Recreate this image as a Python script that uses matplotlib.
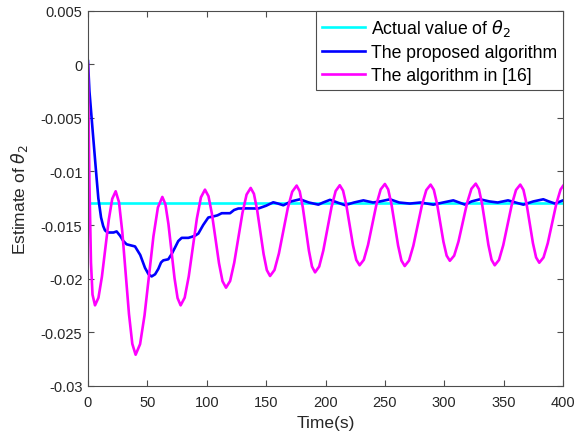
import matplotlib
matplotlib.use('Agg')
import matplotlib.pyplot as plt

plt.rcParams['font.family'] = ['Liberation Sans', 'DejaVu Sans']
plt.rcParams['mathtext.fontset'] = 'dejavusans'

# actual value of theta_2
theta_true = -0.0129

# proposed algorithm
t_prop = [0, 1.2, 4, 7.3, 8.7, 11, 12.8, 14.3, 16.5, 18.5, 21.5, 24.1, 27, 29.8,
          32.5, 36, 39.6, 44, 48, 51, 53.6, 56.5, 59.2, 61.5, 63.4, 65.5, 67.6,
          70.5, 73.3, 76, 78.9, 81.5, 84.5, 87.5, 90.1, 92.9, 97, 101.3, 105.5,
          109, 112.6, 116, 119.6, 123, 126.6, 134, 143.4, 150, 156, 160, 164.5,
          171, 178.5, 186, 194, 198, 203.8, 210, 216.4, 224, 231.9, 240, 246,
          254.3, 262, 271, 280, 290.8, 299, 307.6, 317.5, 323, 330, 338, 345,
          353.7, 360, 366.6, 375, 383.4, 388, 393.3, 400]
v_prop = [0.0003, -0.0025, -0.0063, -0.0107, -0.0125, -0.0143, -0.0151, -0.0155,
          -0.0157, -0.0157, -0.0157, -0.0156, -0.0160, -0.0165,
          -0.0168, -0.0169, -0.0170, -0.0178, -0.0190, -0.0196, -0.0198, -0.0196,
          -0.0191, -0.0185, -0.0183, -0.01825, -0.0182,
          -0.0177, -0.0171, -0.0165, -0.0162, -0.0162, -0.0162, -0.0161, -0.0160,
          -0.0158, -0.0150, -0.0143, -0.0142,
          -0.0141, -0.0139, -0.0139, -0.0139, -0.0136, -0.01346, -0.01345,
          -0.01346, -0.0132, -0.01288, -0.0130, -0.01316,
          -0.0128, -0.0126, -0.0129, -0.0131, -0.0129, -0.01265, -0.0129,
          -0.01315, -0.0129, -0.0127, -0.0129, -0.0128,
          -0.0126, -0.0129, -0.0130, -0.0129, -0.0131, -0.0129, -0.0127,
          -0.0131, -0.0128, -0.0126, -0.0128, -0.0129,
          -0.0127, -0.0129, -0.0131, -0.0128, -0.0126, -0.0128, -0.0130, -0.0127]

# algorithm in [16]
t_ref = [0, 0.5, 1.2, 2.5, 3.8, 5.9,
         8.8, 11.7, 14.6, 17.5, 20.4, 23.3,
         26.1, 28.9, 31.7, 34.5, 37.3, 40.1,
         43.85, 47.6, 51.35, 55.1, 58.85, 62.6,
         65.17, 67.73, 70.3, 72.87, 75.43, 78,
         81.42, 84.83, 88.25, 91.67, 95.08, 98.5,
         101.45, 104.4, 107.35, 110.3, 113.25, 116.2,
         119.67, 123.13, 126.6, 130.07, 133.53, 137,
         139.72, 142.43, 145.15, 147.87, 150.58, 153.3,
         157.03, 160.77, 164.5, 168.23, 171.97, 175.7,
         178.28, 180.87, 183.45, 186.03, 188.62, 191.2,
         194.67, 198.13, 201.6, 205.07, 208.53, 212,
         214.78, 217.57, 220.35, 223.13, 225.92, 228.7,
         232.25, 235.8, 239.35, 242.9, 246.45, 250,
         252.78, 255.57, 258.35, 261.13, 263.92, 266.7,
         270.33, 273.97, 277.6, 281.23, 284.87, 288.5,
         291.2, 293.9, 296.6, 299.3, 302.0, 304.7,
         308.33, 311.97, 315.6, 319.23, 322.87, 326.5,
         329.17, 331.83, 334.5, 337.17, 339.83, 342.5,
         346.08, 349.67, 353.25, 356.83, 360.42, 364,
         366.67, 369.33, 372, 374.67, 377.33, 380,
         383.58, 387.17, 390.75, 394.33, 397.92, 400]
v_ref = [0.0, -0.005, -0.011, -0.0185, -0.0215, -0.0225,
         -0.02179, -0.01984, -0.01718, -0.01451, -0.01256, -0.01185,
         -0.01287, -0.01567, -0.01948, -0.0233, -0.02609, -0.02711,
         -0.02612, -0.02343, -0.01975, -0.01606, -0.01337, -0.01238,
         -0.01306, -0.01491, -0.01744, -0.01997, -0.02182, -0.0225,
         -0.02178, -0.0198, -0.0171, -0.0144, -0.01242, -0.0117,
         -0.01231, -0.01399, -0.01628, -0.01856, -0.02024, -0.02085,
         -0.02023, -0.01852, -0.0162, -0.01387, -0.01216, -0.01154,
         -0.01209, -0.0136, -0.01565, -0.01771, -0.01921, -0.01976,
         -0.0192, -0.01765, -0.01554, -0.01343, -0.01189, -0.01132,
         -0.01186, -0.01335, -0.01537, -0.0174, -0.01888, -0.01942,
         -0.01888, -0.01739, -0.01536, -0.01332, -0.01183, -0.01129,
         -0.01179, -0.01316, -0.01503, -0.01689, -0.01826, -0.01876,
         -0.01825, -0.01686, -0.01497, -0.01307, -0.01168, -0.01117,
         -0.01168, -0.01309, -0.015, -0.01692, -0.01832, -0.01883,
         -0.01832, -0.01693, -0.01503, -0.01313, -0.01174, -0.01123,
         -0.01171, -0.01301, -0.01479, -0.01656, -0.01786, -0.01834,
         -0.01786, -0.01654, -0.01474, -0.01294, -0.01162, -0.01114,
         -0.01165, -0.01304, -0.01495, -0.01686, -0.01825, -0.01876,
         -0.01826, -0.01688, -0.015, -0.01311, -0.01173, -0.01123,
         -0.01172, -0.01305, -0.01488, -0.0167, -0.01803, -0.01852,
         -0.01803, -0.01669, -0.01486, -0.01303, -0.01169, -0.01135]

xticks = [0, 50, 100, 150, 200, 250, 300, 350, 400]
yticks = [-0.03, -0.025, -0.02, -0.015, -0.01, -0.005, 0, 0.005]
ytick_labels = ['-0.03', '-0.025', '-0.02', '-0.015', '-0.01', '-0.005', '0', '0.005']

fig = plt.figure(figsize=(5.82, 4.39), dpi=100)
ax = fig.add_axes([0.1512, 0.1191, 0.8162, 0.8542])

ax.plot([0, 400], [theta_true, theta_true], color='#00FFFF', lw=1.9,
        label=r'Actual value of $\theta_2$')
ax.plot(t_prop, v_prop, color='#0000FF', lw=1.9, label='The proposed algorithm')
ax.plot(t_ref, v_ref, color='#FF00FF', lw=1.9, label='The algorithm in [16]')

ax.set_xlim(0, 400)
ax.set_ylim(-0.03, 0.005)
ax.set_xticks(xticks)
ax.set_yticks(yticks)
ax.set_yticklabels(ytick_labels)

edge = '#4d4d4d'
for s in ax.spines.values():
    s.set_color(edge)
    s.set_linewidth(0.8)
ax.tick_params(direction='in', top=True, right=True, length=4, width=0.8,
               colors=edge, labelcolor='#262626', labelsize=10.5)
ax.tick_params(axis='x', pad=7)
ax.tick_params(axis='y', pad=4)

ax.set_xlabel('Time(s)', fontsize=12.5, color='#262626', labelpad=4)
ax.set_ylabel(r'Estimate of $\theta_2$', fontsize=12.5, color='#262626', labelpad=8)

leg = ax.legend(loc='upper right', fontsize=12.7, fancybox=False, framealpha=1,
                edgecolor=edge, borderaxespad=0, handlelength=2.45,
                handletextpad=0.3, borderpad=0.35, labelspacing=0.35)
leg.get_frame().set_linewidth(0.8)

fig.savefig('out.png', dpi=100)
